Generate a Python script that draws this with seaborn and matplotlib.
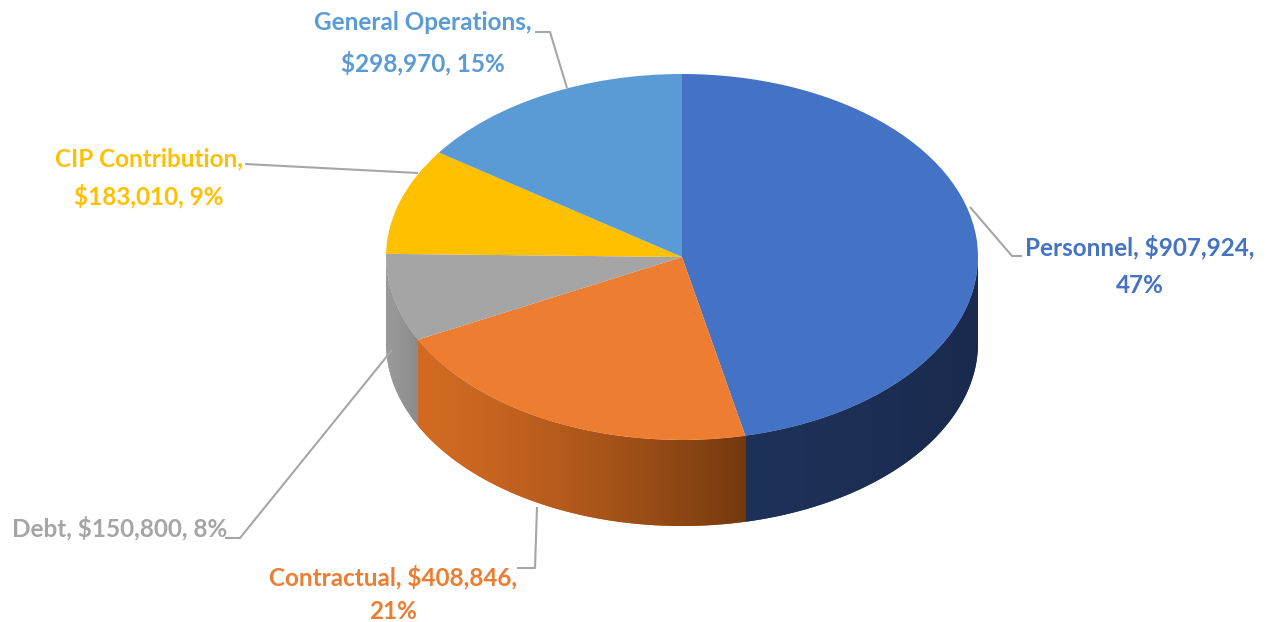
import numpy as np
import matplotlib
matplotlib.use("Agg")
import matplotlib.pyplot as plt
from matplotlib import font_manager
from matplotlib.patches import Polygon
from matplotlib.colors import to_rgb
import seaborn as sns

# ---------------- data ----------------
categories = ["Personnel", "Contractual", "Debt", "CIP Contribution", "General Operations"]
values = [907924, 408846, 150800, 183010, 298970]
label_breaks = ["{n}, ${v:,},\n{p}%", "{n}, ${v:,},\n{p}%", "{n}, ${v:,}, {p}%",
                "{n},\n${v:,}, {p}%", "{n},\n${v:,}, {p}%"]

# ---------------- style ----------------
top_colors = ["#4472C4", "#ED7D31", "#A5A5A5", "#FFC000", "#5B9BD5"]
text_colors = ["#4472C4", "#ED7D31", "#A5A5A5", "#FFC000", "#5B9BD5"]
side_colors = [("#1e3158", "#1a2a4e"), ("#d26a22", "#74390f"), ("#9a9a9a", "#8a8a8a"),
               ("#c99700", "#b08400"), ("#3f78ad", "#35669a")]

sns.set_theme(style="white")
avail = {f.name for f in font_manager.fontManager.ttflist}
if "Lato" in avail:
    FONT = dict(family="Lato", fontweight="bold")
else:
    FONT = dict(family="Liberation Sans", fontweight="bold")

W, H = 1279, 622
fig = plt.figure(figsize=(W / 100, H / 100), dpi=100)
fig.patch.set_facecolor("white")

# pie geometry (pixels)
cx, cy, rx, ry = 682, 257, 296, 183
thick = 0.47  # in units of ry
xl, xr = -1.5, 1.5
yb, yt = -1.8, 1.2
ax = fig.add_axes([(cx + xl * rx) / W, (H - (cy - yb * ry)) / H,
                   (xr - xl) * rx / W, (yt - yb) * ry / H])

wedges, _ = ax.pie(values, colors=top_colors, startangle=90, counterclock=False,
                   radius=1.0, wedgeprops=dict(linewidth=0, zorder=3))

# side walls, derived from the wedge angles
for w, (c_left, c_right) in zip(wedges, side_colors):
    lo, hi = max(w.theta1, -180.0), min(w.theta2, 0.0)
    if hi <= lo:
        continue
    th = np.radians(np.linspace(lo, hi, 200))
    xs, ys = np.cos(th), np.sin(th)
    pts = np.concatenate([np.column_stack([xs, ys]),
                          np.column_stack([xs[::-1], ys[::-1] - thick])])
    poly = Polygon(pts, closed=True, facecolor=c_left, edgecolor="none", zorder=1)
    ax.add_patch(poly)
    x0, x1 = xs.min(), xs.max()
    grad = np.linspace(0, 1, 256) ** 1.4
    cl, cr = np.array(to_rgb(c_left)), np.array(to_rgb(c_right))
    img = (cl[None, :] * (1 - grad[:, None]) + cr[None, :] * grad[:, None])[None, :, :]
    im = ax.imshow(img, extent=[x0, x1, ys.min() - thick, ys.max()], aspect="auto",
                   interpolation="bilinear", zorder=2)
    im.set_clip_path(poly)

ax.set_xlim(xl, xr)
ax.set_ylim(yb, yt)
ax.set_aspect("auto")
ax.axis("off")

# ---------------- labels ----------------
total = sum(values)
pcts = [round(100 * v / total) for v in values]
labels = [fmt.format(n=n, v=v, p=p) for fmt, n, v, p in zip(label_breaks, categories, values, pcts)]

ov = fig.add_axes([0, 0, 1, 1], zorder=5)
ov.set_xlim(0, W)
ov.set_ylim(H, 0)
ov.axis("off")
ov.patch.set_alpha(0)

label_pos = [(1140, 266), (393, 594), (120, 528), (149, 178), (423, 43)]
spacing = [1.8, 1.55, 1.2, 1.65, 1.8]
leaders = [
    [(1022, 256), (1012, 256), (970, 207)],
    [(517, 568), (535, 568), (537, 507)],
    [(225, 538), (240, 538), (392, 350)],
    [(245, 164), (418, 173)],
    [(535, 32), (550, 32), (567, 88)],
]
for lab, (tx, ty), col, ld, ls in zip(labels, label_pos, text_colors, leaders, spacing):
    ov.text(tx, ty, lab, ha="center", va="center", color=col, fontsize=17.5,
            linespacing=ls, **FONT)
    lx, ly = zip(*ld)
    ov.plot(lx, ly, color="#a6a6a6", lw=1.5, solid_capstyle="butt")

fig.savefig("out.png", dpi=100, facecolor="white")
